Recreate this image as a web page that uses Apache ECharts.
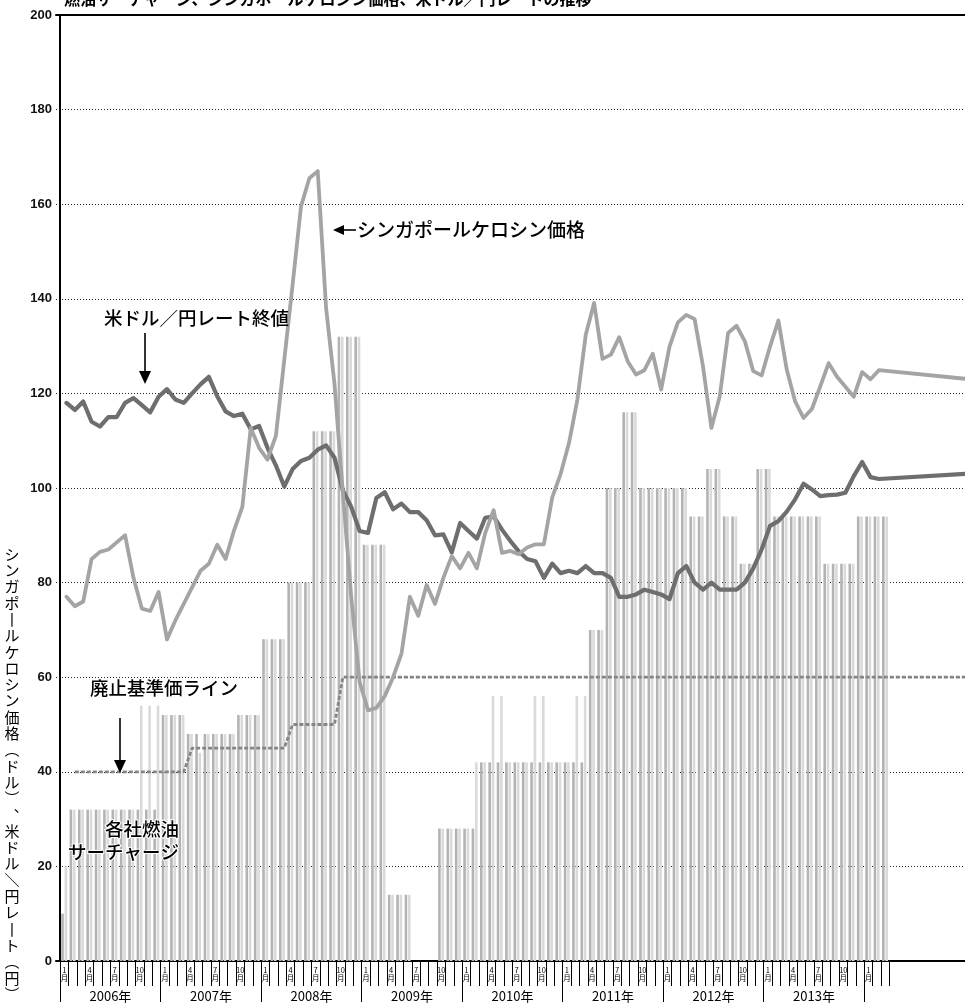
<!DOCTYPE html>
<html>
<head>
<meta charset="utf-8">
<script src="https://cdn.jsdelivr.net/npm/echarts@6/dist/echarts.min.js"></script>
<style>
html,body{margin:0;padding:0;background:#fff;}
#chart{width:965px;height:1003px;}
</style>
</head>
<body>
<div id="chart"></div>
<script>
// ---- data -------------------------------------------------------------
const chartTitle = '燃油サーチャージ、シンガポールケロシン価格、米ドル／円レートの推移';
const yAxisTitle = 'シンガポールケロシン価格(ドル)、米ドル／円レート(円)';
const yearLabels = ['2006年', '2007年', '2008年', '2009年', '2010年', '2011年', '2012年', '2013年'];
const monthMarks = [1, 4, 7, 10];

// USD/JPY month-end close, Jan 2006 .. Feb 2014
const usdJpy = [
  118, 116.5, 118.3, 114, 113, 115, 115, 118, 119, 117.5, 116, 119.3,
  120.9, 118.7, 118, 120, 121.9, 123.5, 119.4, 116.2, 115.2, 115.7, 112.4, 113.1,
  108.5, 104.8, 100.3, 104, 105.7, 106.4, 108.1, 109, 106.4, 99.5, 96, 90.9,
  90.5, 97.9, 99.1, 95.5, 96.7, 94.9, 94.9, 93.2, 90, 90.2, 86.4, 92.6,
  90.9, 89.3, 93.7, 94, 91.2, 88.8, 86.6, 85, 84.5, 81, 84, 82,
  82.5, 82, 83.5, 82, 82, 81, 77, 77, 77.5, 78.5, 78, 77.5,
  76.5, 82, 83.5, 80, 78.5, 80, 78.5, 78.5, 78.5, 80, 83, 87,
  92, 93, 95, 97.6, 100.9, 99.7, 98.3, 98.5, 98.6, 99, 102.5, 105.5,
  102.3, 101.9
];
const usdJpyLatest = 103.0;

// Singapore kerosene price (USD/bbl), Jan 2006 .. Feb 2014
const kerosene = [
  77, 75, 76, 85, 86.5, 87, 88.5, 90, 81, 74.5, 74, 78,
  68, 72, 75.5, 79, 82.5, 84, 88, 85, 91, 96, 112.7, 108.5,
  106, 111, 127, 143, 159.5, 165.5, 167, 138, 122, 99, 77, 59,
  53, 53.5, 56, 60, 65, 77, 73, 79.5, 75.5, 81, 85.6, 83,
  86.3, 83, 90.5, 95.3, 86.3, 86.7, 86, 87.4, 88.1, 88.1, 98, 103,
  109.5, 118.7, 132.4, 139.1, 127.3, 128.2, 131.9, 126.8, 124, 124.9, 128.4, 120.8,
  129.9, 135, 136.6, 135.7, 125.7, 112.7, 119.4, 132.8, 134.3, 131, 124.7, 123.8,
  129.9, 135.4, 125, 118.3, 114.8, 116.7, 121.5, 126.4, 123.5, 121.4, 119.3, 124.5,
  123, 124.9
];
const keroseneLatest = 123.1;

// Fuel surcharge of the two carriers, Jan 2006 .. Mar 2014 (scaled to the left axis)
const surchargeA = [
  10, 32, 32, 32, 32, 32, 32, 32, 32, 32, 32, 32,
  52, 52, 52, 48, 48, 48, 48, 48, 48, 52, 52, 52,
  68, 68, 68, 80, 80, 80, 112, 112, 112, 132, 132, 132,
  88, 88, 88, 14, 14, 14, 0, 0, 0, 28, 28, 28,
  28, 28, 42, 42, 42, 42, 42, 42, 42, 42, 42, 42,
  42, 42, 42, 70, 70, 100, 100, 116, 116, 100, 100, 100,
  100, 100, 100, 94, 94, 104, 104, 94, 94, 84, 84, 104,
  104, 94, 94, 94, 94, 94, 94, 84, 84, 84, 84, 94,
  94, 94, 94
];
const surchargeB = [
  20, 32, 32, 32, 32, 32, 32, 32, 32, 54, 54, 54,
  52, 52, 52, 48, 44, 48, 48, 48, 48, 52, 52, 52,
  68, 68, 68, 80, 80, 80, 112, 112, 112, 132, 132, 132,
  88, 88, 88, 14, 14, 14, 0, 0, 0, 28, 28, 28,
  28, 42, 42, 56, 56, 42, 42, 42, 56, 56, 42, 42,
  42, 56, 56, 70, 70, 100, 100, 116, 116, 100, 100, 100,
  100, 100, 100, 94, 94, 104, 104, 94, 94, 84, 84, 104,
  104, 94, 94, 94, 94, 94, 94, 84, 84, 84, 84, 94,
  94, 94, 94
];

// Abolition threshold line: [month index from Jan 2006, price]
const abolitionLine = [[1, 40], [14, 40], [15, 45], [26, 45], [27, 50], [32, 50], [33, 60]];

// ---- layout helpers -----------------------------------------------------
const X_MIN = -0.5;
const X_MAX = 108.03;
const PT = 0.75;          // position of a monthly vertex inside its month slot
const BAR_A = 0.28, BAR_B = 0.68;
const N_MONTHS = surchargeA.length;

const asLine = (arr, latest) => arr.map((v, i) => [i + PT, v]).concat([[X_MAX, latest]]);
const asBars = (arr, off) => arr.map((v, i) => [i + off, v]);
const abolition = abolitionLine.map(p => [p[0] + PT, p[1]]).concat([[X_MAX, 60]]);

const monthTicks = [];
for (let m = 0; m <= N_MONTHS; m++) monthTicks.push(m);
const monthLabelPos = [];
for (let m = 0; m < N_MONTHS; m++) if (monthMarks.includes(m % 12 + 1)) monthLabelPos.push(m + 0.5);
const yearTicks = [];
for (let y = 0; y <= yearLabels.length; y++) yearTicks.push(y * 12);
const yearLabelPos = yearLabels.map((_, i) => i * 12 + 6);

const JP = '"Noto Sans CJK JP", "Noto Sans", sans-serif';

// vertical (tategaki) form of the axis title
const verticalForms = { 'ー': '丨', '(': '︵', ')': '︶', '、': '︑', '／': '＼' };
const verticalTitle = Array.from(yAxisTitle).map(c => verticalForms[c] || c);

const chart = echarts.init(document.getElementById('chart'), null, { renderer: 'canvas' });

const arrowDown = (x, y1, y2) => ([
  { type: 'line', shape: { x1: x, y1: y1, x2: x, y2: y2 - 10 }, style: { stroke: '#000', lineWidth: 1.6 }, z: 100 },
  { type: 'polygon', shape: { points: [[x - 6, y2 - 13], [x + 6, y2 - 13], [x, y2]] }, style: { fill: '#000' }, z: 100 }
]);

const annoStyle = (text, extra) => Object.assign({
  text: text, fontSize: 18.5, fontWeight: 500, fontFamily: JP, fill: '#000'
}, extra || {});

const option = {
  animation: false,
  backgroundColor: '#fff',
  grid: { left: 56, right: 0, top: 15, bottom: 41, containLabel: false },
  xAxis: [
    {
      type: 'value', min: X_MIN, max: X_MAX, position: 'bottom',
      axisLine: { show: true, onZero: false, lineStyle: { color: '#000', width: 2 } },
      axisTick: { show: true, customValues: monthTicks, length: 25, lineStyle: { color: '#000', width: 1 } },
      axisLabel: {
        show: true, customValues: monthLabelPos, margin: 5,
        fontSize: 7.5, lineHeight: 8, color: '#000', fontFamily: JP,
        formatter: v => (Math.floor(v) % 12 + 1) + '\n月'
      },
      splitLine: { show: false }
    },
    {
      type: 'value', min: X_MIN, max: X_MAX, position: 'bottom',
      axisLine: { show: false, onZero: false },
      axisTick: { show: true, customValues: yearTicks, length: 41, lineStyle: { color: '#000', width: 1 } },
      axisLabel: {
        show: true, customValues: yearLabelPos, margin: 29,
        fontSize: 13, color: '#000', fontFamily: JP,
        formatter: v => yearLabels[Math.round((v - 6) / 12)]
      },
      splitLine: { show: false }
    },
    {
      type: 'value', min: X_MIN, max: X_MAX, position: 'top',
      axisLine: { show: true, onZero: false, lineStyle: { color: '#000', width: 2 } },
      axisTick: { show: false }, axisLabel: { show: false }, splitLine: { show: false }
    }
  ],
  yAxis: {
    type: 'value', min: 0, max: 200, interval: 20,
    axisLine: { show: true, lineStyle: { color: '#000', width: 2 } },
    axisTick: { show: false },
    axisLabel: { fontSize: 13, fontWeight: 'bold', color: '#111', fontFamily: '"Liberation Sans", Arial, sans-serif', margin: 4 },
    splitLine: { show: true, lineStyle: { color: '#222', width: 1, type: [1, 2] } }
  },
  series: [
    {
      name: 'surchargeA', type: 'bar', data: asBars(surchargeA, BAR_A),
      barWidth: 2.6, barGap: '-100%', itemStyle: { color: '#b3b3b3' }, z: 1, silent: true
    },
    {
      name: 'surchargeB', type: 'bar', data: asBars(surchargeB, BAR_B),
      barWidth: 2.6, barGap: '-100%', itemStyle: { color: '#dadada' }, z: 1, silent: true
    },
    {
      name: 'abolition', type: 'line', data: abolition, symbol: 'none', z: 3,
      lineStyle: { color: '#858585', width: 2.8, type: [4, 2] }
    },
    {
      name: 'usdjpy', type: 'line', data: asLine(usdJpy, usdJpyLatest), symbol: 'none', z: 4,
      lineStyle: { color: '#6e6e6e', width: 4.2, join: 'round', cap: 'round' }
    },
    {
      name: 'kerosene', type: 'line', data: asLine(kerosene, keroseneLatest), symbol: 'none', z: 5,
      lineStyle: { color: '#a4a4a4', width: 3.8, join: 'round', cap: 'round' }
    }
  ],
  graphic: [
    { type: 'text', left: 64, top: -9, z: 100, style: { text: chartTitle, fontSize: 16, fontWeight: 'bold', fontFamily: JP, fill: '#000' } },
    // vertical axis title, one glyph per row
    ...verticalTitle.map((c, i) => ({
      type: 'text', z: 100,
      style: { text: c, x: 12, y: 554 + i * 16.3, fontSize: 15, fontFamily: JP, fill: '#000', align: 'center', verticalAlign: 'middle' }
    })),
    // kerosene label with left arrow
    { type: 'line', shape: { x1: 342, y1: 230, x2: 356, y2: 230 }, style: { stroke: '#000', lineWidth: 1.6 }, z: 100 },
    { type: 'polygon', shape: { points: [[333, 230], [344, 225], [344, 235]] }, style: { fill: '#000' }, z: 100 },
    { type: 'text', left: 357, top: 220, z: 100, style: annoStyle('シンガポールケロシン価格', { fontSize: 19 }) },
    // USD/JPY label
    { type: 'text', left: 104, top: 309, z: 100, style: annoStyle('米ドル／円レート終値') },
    ...arrowDown(145, 333, 384),
    // abolition line label
    { type: 'text', left: 90, top: 679, z: 100, style: annoStyle('廃止基準価ライン') },
    ...arrowDown(120, 718, 773),
    // surcharge label
    { type: 'text', left: 104, top: 819, z: 100, style: annoStyle('各社燃油', { stroke: '#fff', lineWidth: 2 }) },
    { type: 'text', left: 67, top: 842, z: 100, style: annoStyle('サーチャージ', { stroke: '#fff', lineWidth: 2 }) }
  ]
};
chart.setOption(option);
</script>
</body>
</html>
